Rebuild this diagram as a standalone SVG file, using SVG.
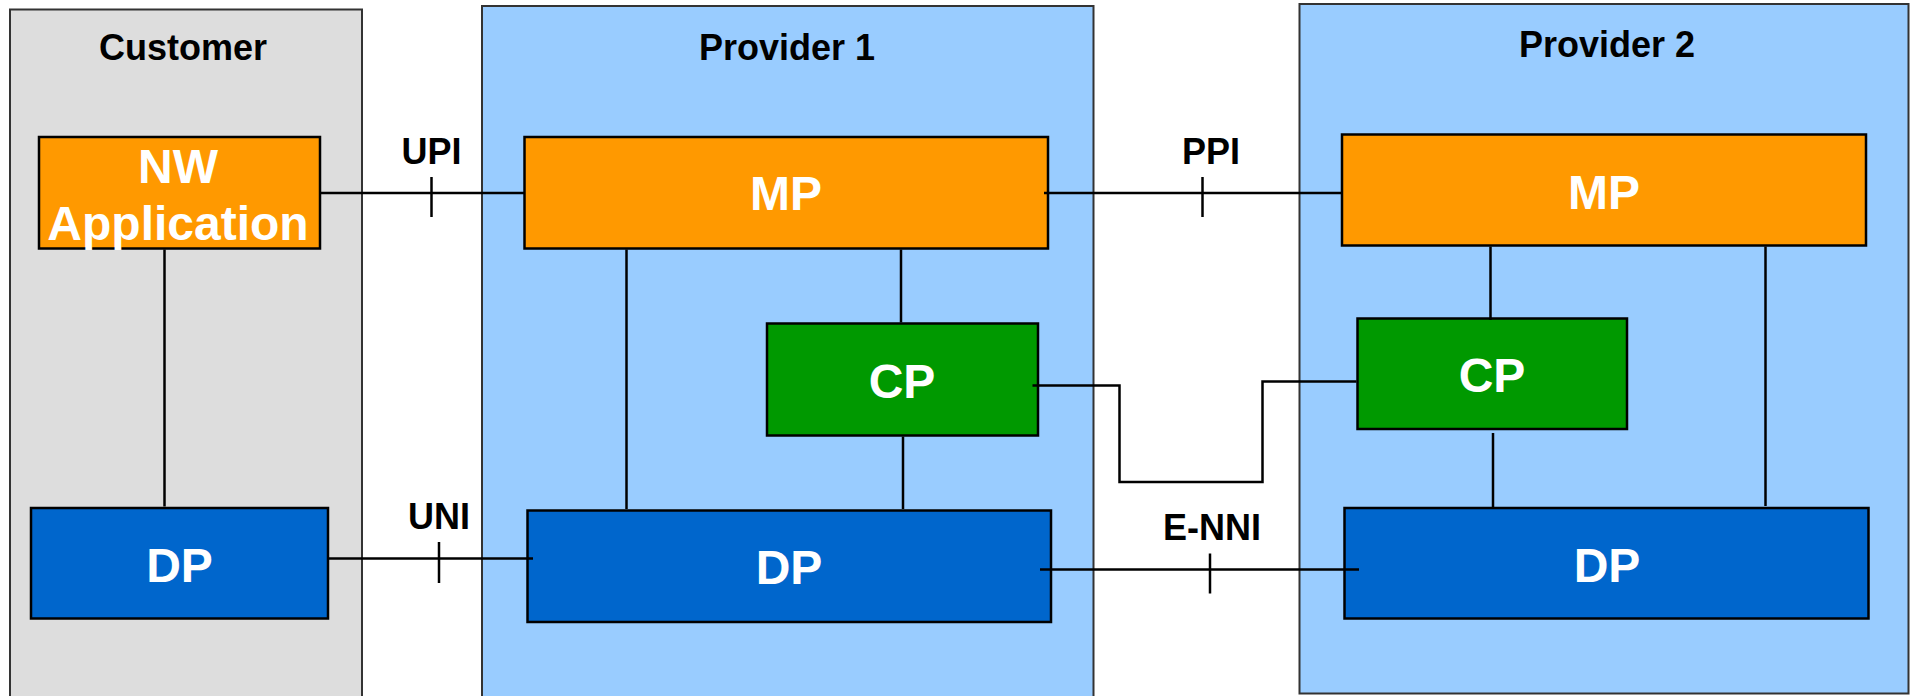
<svg xmlns="http://www.w3.org/2000/svg" width="1910" height="696" viewBox="0 0 1910 696">
<style>
.dom{stroke:#333;stroke-width:2}
.cust{fill:#DDDDDD}
.prov{fill:#99CCFF}
.node{stroke:#000;stroke-width:2.5}
.mp{fill:#FF9900}
.cp{fill:#009900}
.dp{fill:#0066CC}
.title{font-family:"Liberation Sans",Arial,sans-serif;font-weight:bold;font-size:36px;fill:#000;text-anchor:middle}
.lbl{font-family:"Liberation Sans",Arial,sans-serif;font-weight:bold;font-size:48px;fill:#fff;text-anchor:middle}
.ln{stroke:#000;stroke-width:2.5;fill:none}
</style>
<rect width="1910" height="696" fill="#fff"/>
<g id="domain-customer">
<rect class="dom cust" x="10" y="9.5" width="352" height="700"/>
<text class="title" x="183" y="60">Customer</text>
</g>
<g id="domain-provider1">
<rect class="dom prov" x="482" y="6" width="611.5" height="703"/>
<text class="title" x="787" y="60">Provider 1</text>
</g>
<g id="domain-provider2">
<rect class="dom prov" x="1299.5" y="4" width="609" height="689.5"/>
<text class="title" x="1607" y="57">Provider 2</text>
</g>
<g id="node-nw-application">
<rect class="node mp" x="39" y="137" width="281" height="111.5"/>
<text class="lbl" x="178" y="182.5">NW</text>
<text class="lbl" x="178" y="239.5">Application</text>
</g>
<g id="node-customer-dp">
<rect class="node dp" x="31" y="508" width="297" height="110.5"/>
<text class="lbl" x="179.5" y="581.5">DP</text>
</g>
<g id="node-p1-mp">
<rect class="node mp" x="524.5" y="137" width="523.5" height="111.5"/>
<text class="lbl" x="786" y="209.5">MP</text>
</g>
<g id="node-p1-cp">
<rect class="node cp" x="767" y="323.5" width="271" height="112"/>
<text class="lbl" x="902" y="397.5">CP</text>
</g>
<g id="node-p1-dp">
<rect class="node dp" x="527.5" y="510.5" width="523.5" height="111.5"/>
<text class="lbl" x="789" y="584">DP</text>
</g>
<g id="node-p2-mp">
<rect class="node mp" x="1342" y="134.5" width="524" height="111"/>
<text class="lbl" x="1604" y="208.5">MP</text>
</g>
<g id="node-p2-cp">
<rect class="node cp" x="1357.5" y="318.5" width="269.5" height="110.5"/>
<text class="lbl" x="1492" y="392">CP</text>
</g>
<g id="node-p2-dp">
<rect class="node dp" x="1344.5" y="508" width="524" height="110.5"/>
<text class="lbl" x="1607" y="581.5">DP</text>
</g>
<g id="connectors">
<line class="ln" x1="164.5" y1="249.5" x2="164.5" y2="506.5"/>
<line class="ln" x1="321" y1="193" x2="524.5" y2="193"/>
<line class="ln" x1="431.5" y1="177" x2="431.5" y2="217"/>
<line class="ln" x1="329" y1="558.5" x2="533" y2="558.5"/>
<line class="ln" x1="439" y1="542" x2="439" y2="583"/>
<line class="ln" x1="626.5" y1="249.5" x2="626.5" y2="509"/>
<line class="ln" x1="901" y1="249.5" x2="901" y2="322.5"/>
<line class="ln" x1="903" y1="436.5" x2="903" y2="509"/>
<line class="ln" x1="1044" y1="193" x2="1341" y2="193"/>
<line class="ln" x1="1202.5" y1="177" x2="1202.5" y2="217"/>
<polyline class="ln" points="1032.5,385.5 1119.5,385.5 1119.5,482 1262.5,482 1262.5,381.5 1356.5,381.5"/>
<line class="ln" x1="1040" y1="569.5" x2="1359" y2="569.5"/>
<line class="ln" x1="1210" y1="553.5" x2="1210" y2="593.5"/>
<line class="ln" x1="1490.5" y1="246.5" x2="1490.5" y2="320"/>
<line class="ln" x1="1765.5" y1="246.5" x2="1765.5" y2="506"/>
<line class="ln" x1="1493" y1="433" x2="1493" y2="507"/>
<text class="title" x="431.5" y="164">UPI</text>
<text class="title" x="439" y="529">UNI</text>
<text class="title" x="1211" y="164">PPI</text>
<text class="title" x="1212" y="540">E-NNI</text>
</g>
</svg>
